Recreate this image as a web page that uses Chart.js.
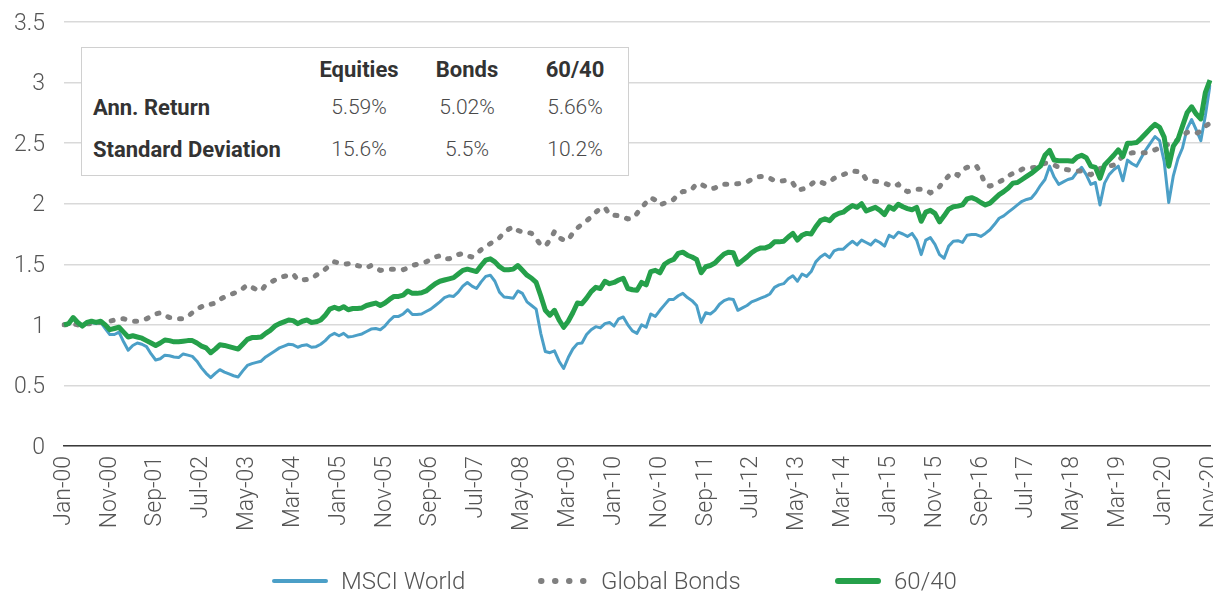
<!DOCTYPE html>
<html>
<head>
<meta charset="utf-8">
<script src="https://cdn.jsdelivr.net/npm/chart.js@4.4.1/dist/chart.umd.min.js"></script>
<style>
html,body{margin:0;padding:0;background:#fff;}
#wrap{position:relative;width:1213px;height:592px;font-family:Roboto,"Noto Sans",sans-serif;overflow:hidden;}
#c{position:absolute;left:0;top:0;}
#tbl{position:absolute;left:81px;top:47px;width:548px;height:129px;box-sizing:border-box;border:1px solid #d0d0d0;background:#fff;}
.cell{position:absolute;white-space:nowrap;transform:translate(-50%,-50%);color:#4a4a4a;font-size:21px;font-weight:300;}
.hdr{font-weight:700;color:#333;font-size:22px;}
.rl{position:absolute;white-space:nowrap;transform:translateY(-50%);font-weight:700;color:#333;font-size:22px;}
.lg{position:absolute;top:568px;height:26px;display:flex;align-items:center;font-size:24px;font-weight:300;color:#555;white-space:nowrap;}
.lg svg{margin-right:13px;}
</style>
</head>
<body>
<div id="wrap">
<canvas id="c" width="1213" height="592"></canvas>
<div id="tbl"></div>
<div id="legend"></div>
</div>
<script>
// ---- data ----
const xTickLabels = ["Jan-00","Nov-00","Sep-01","Jul-02","May-03","Mar-04","Jan-05","Nov-05","Sep-06","Jul-07","May-08","Mar-09","Jan-10","Nov-10","Sep-11","Jul-12","May-13","Mar-14","Jan-15","Nov-15","Sep-16","Jul-17","May-18","Mar-19","Jan-20","Nov-20"];
const yTickValues = [0,0.5,1,1.5,2,2.5,3,3.5];
const yTickLabels = ["0","0.5","1","1.5","2","2.5","3","3.5"];

const msciWorld = [
1.00,1.01,1.05,1.01,0.99,1.02,1.02,1.01,1.02,0.97,
0.92,0.92,0.94,0.86,0.79,0.83,0.85,0.84,0.82,0.76,
0.71,0.72,0.75,0.745,0.735,0.73,0.76,0.75,0.74,0.70,
0.645,0.60,0.565,0.60,0.63,0.61,0.595,0.58,0.57,0.62,
0.665,0.68,0.69,0.70,0.735,0.76,0.785,0.81,0.825,0.84,
0.835,0.815,0.83,0.835,0.815,0.82,0.84,0.87,0.91,0.93,
0.91,0.93,0.90,0.905,0.915,0.925,0.945,0.965,0.97,0.96,
0.99,1.035,1.07,1.07,1.09,1.125,1.085,1.085,1.09,1.11,
1.13,1.16,1.19,1.225,1.24,1.235,1.27,1.32,1.35,1.32,
1.30,1.355,1.40,1.41,1.36,1.27,1.23,1.225,1.22,1.28,
1.26,1.19,1.16,1.13,0.93,0.78,0.77,0.785,0.70,0.64,
0.73,0.80,0.845,0.85,0.92,0.96,0.985,0.975,1.01,1.02,
0.99,1.05,1.065,1.00,0.95,0.93,1.00,0.98,1.09,1.07,
1.12,1.165,1.21,1.21,1.24,1.26,1.225,1.20,1.16,1.02,
1.10,1.09,1.12,1.17,1.20,1.215,1.21,1.12,1.14,1.16,
1.19,1.205,1.22,1.235,1.255,1.31,1.33,1.34,1.38,1.405,
1.36,1.42,1.40,1.44,1.52,1.56,1.585,1.555,1.61,1.625,
1.625,1.66,1.69,1.66,1.70,1.68,1.66,1.70,1.68,1.65,
1.74,1.72,1.765,1.75,1.73,1.755,1.70,1.58,1.70,1.72,
1.665,1.58,1.55,1.65,1.69,1.695,1.68,1.74,1.745,1.745,
1.73,1.755,1.785,1.83,1.88,1.90,1.93,1.96,1.99,2.02,
2.035,2.045,2.09,2.15,2.20,2.31,2.22,2.16,2.18,2.20,
2.21,2.26,2.30,2.24,2.16,2.175,1.99,2.17,2.24,2.28,
2.31,2.19,2.36,2.33,2.31,2.38,2.445,2.50,2.555,2.52,
2.35,2.01,2.23,2.37,2.46,2.62,2.695,2.61,2.52,2.73,2.98];

const globalBonds = [
1.00,1.00,1.01,1.00,1.00,1.01,1.01,1.02,1.02,1.02,
1.03,1.04,1.05,1.05,1.04,1.03,1.03,1.04,1.05,1.07,
1.09,1.10,1.08,1.06,1.06,1.05,1.05,1.07,1.10,1.13,
1.15,1.17,1.17,1.18,1.21,1.23,1.245,1.26,1.275,1.30,
1.33,1.31,1.29,1.28,1.33,1.35,1.37,1.39,1.40,1.41,
1.42,1.37,1.37,1.375,1.38,1.41,1.43,1.46,1.49,1.52,
1.51,1.50,1.505,1.51,1.49,1.48,1.47,1.49,1.47,1.45,
1.455,1.46,1.46,1.455,1.455,1.47,1.49,1.50,1.51,1.52,
1.54,1.56,1.57,1.545,1.545,1.565,1.58,1.59,1.57,1.56,
1.59,1.62,1.65,1.67,1.70,1.72,1.76,1.79,1.81,1.78,
1.765,1.765,1.755,1.71,1.66,1.65,1.70,1.77,1.72,1.70,
1.70,1.76,1.80,1.83,1.86,1.89,1.93,1.96,1.97,1.91,
1.905,1.90,1.89,1.875,1.88,1.92,1.97,2.01,2.05,2.03,
1.99,2.005,2.02,2.035,2.08,2.10,2.10,2.12,2.165,2.16,
2.14,2.12,2.13,2.155,2.16,2.16,2.165,2.165,2.17,2.18,
2.20,2.22,2.225,2.225,2.21,2.19,2.185,2.19,2.195,2.17,
2.11,2.12,2.13,2.16,2.19,2.18,2.165,2.18,2.21,2.225,
2.24,2.255,2.27,2.265,2.26,2.20,2.19,2.185,2.18,2.17,
2.155,2.14,2.16,2.12,2.10,2.11,2.12,2.12,2.115,2.09,
2.11,2.14,2.19,2.23,2.255,2.235,2.28,2.30,2.31,2.315,
2.25,2.16,2.145,2.16,2.18,2.20,2.23,2.25,2.26,2.285,
2.295,2.295,2.30,2.32,2.335,2.33,2.32,2.30,2.285,2.28,
2.275,2.27,2.27,2.255,2.24,2.26,2.29,2.30,2.31,2.32,
2.36,2.39,2.41,2.42,2.42,2.42,2.42,2.43,2.445,2.46,
2.485,2.49,2.50,2.53,2.56,2.59,2.59,2.58,2.60,2.64,2.665];

const sixtyForty = [
1.00,1.01,1.06,1.02,0.99,1.02,1.03,1.02,1.03,1.00,
0.96,0.97,0.98,0.94,0.90,0.91,0.90,0.89,0.87,0.85,
0.83,0.85,0.875,0.87,0.86,0.86,0.865,0.87,0.87,0.85,
0.825,0.81,0.77,0.80,0.835,0.83,0.82,0.81,0.80,0.84,
0.88,0.895,0.895,0.90,0.93,0.955,0.99,1.01,1.025,1.04,
1.035,1.01,1.03,1.04,1.02,1.025,1.04,1.08,1.13,1.145,
1.13,1.15,1.125,1.135,1.135,1.14,1.16,1.17,1.18,1.16,
1.18,1.21,1.235,1.235,1.245,1.28,1.26,1.26,1.265,1.28,
1.31,1.34,1.36,1.37,1.38,1.39,1.42,1.45,1.46,1.45,
1.44,1.49,1.535,1.545,1.52,1.48,1.455,1.455,1.46,1.49,
1.45,1.41,1.385,1.35,1.24,1.12,1.08,1.12,1.04,0.98,
1.03,1.10,1.18,1.175,1.22,1.275,1.31,1.30,1.36,1.34,
1.35,1.37,1.385,1.30,1.29,1.285,1.35,1.33,1.44,1.45,
1.43,1.50,1.525,1.54,1.59,1.60,1.575,1.56,1.54,1.43,
1.48,1.49,1.51,1.55,1.585,1.60,1.595,1.50,1.53,1.56,
1.595,1.62,1.635,1.635,1.65,1.685,1.685,1.69,1.725,1.755,
1.70,1.74,1.755,1.75,1.81,1.86,1.875,1.86,1.90,1.92,
1.93,1.96,1.985,1.97,2.00,1.94,1.955,1.97,1.945,1.91,
1.975,1.955,1.995,1.975,1.96,1.95,1.97,1.855,1.93,1.945,
1.92,1.85,1.90,1.955,1.975,1.98,1.99,2.04,2.05,2.035,
2.01,1.99,2.005,2.04,2.075,2.10,2.13,2.17,2.175,2.20,
2.225,2.25,2.28,2.31,2.40,2.44,2.36,2.355,2.355,2.355,
2.35,2.385,2.40,2.38,2.31,2.30,2.21,2.32,2.36,2.40,
2.445,2.39,2.50,2.50,2.505,2.54,2.58,2.62,2.655,2.63,
2.55,2.31,2.475,2.53,2.64,2.75,2.80,2.74,2.70,2.92,3.02];

const seriesNames = ["MSCI World","Global Bonds","60/40"];
const tableColumns = ["Equities","Bonds","60/40"];
const tableRows = ["Ann. Return","Standard Deviation"];
const tableValues = [["5.59%","5.02%","5.66%"],["15.6%","5.5%","10.2%"]];

// month categories Jan-00 .. Nov-20
const monthNames = ["Jan","Feb","Mar","Apr","May","Jun","Jul","Aug","Sep","Oct","Nov","Dec"];
const months = [];
for (let i = 0; i < msciWorld.length; i++) {
  const y = Math.floor(i / 12), mo = i % 12;
  months.push(monthNames[mo] + "-" + String(y).padStart(2, "0"));
}
const tickSet = new Set(xTickLabels);

const FONT = "Roboto";
const BLUE = "#4b9fc7", GREY = "#808080", GREEN = "#25a04a";

new Chart(document.getElementById("c").getContext("2d"), {
  type: "line",
  data: {
    labels: months,
    datasets: [
      { label: seriesNames[0], data: msciWorld, borderColor: BLUE, borderWidth: 3, pointRadius: 0, tension: 0, order: 3, borderJoinStyle: "round" },
      { label: seriesNames[1], data: globalBonds, borderColor: GREY, borderWidth: 5, borderDash: [2, 10], borderCapStyle: "round", pointRadius: 0, tension: 0, order: 2 },
      { label: seriesNames[2], data: sixtyForty, borderColor: GREEN, borderWidth: 5, pointRadius: 0, tension: 0, order: 1, borderJoinStyle: "round" }
    ]
  },
  options: {
    responsive: false,
    animation: false,
    events: [],
    layout: { padding: { top: 22, right: 3, left: 0, bottom: 0 } },
    plugins: { legend: { display: false }, tooltip: { enabled: false } },
    scales: {
      x: {
        type: "category",
        offset: false,
        grid: { display: false, drawTicks: false },
        border: { display: true, color: "#3a3a3a", width: 1.5 },
        ticks: {
          autoSkip: false, maxRotation: 90, minRotation: 90, padding: 10,
          color: "#555", font: { family: FONT, size: 23, weight: 300 },
          callback: function (v, i) { const l = months[i]; return tickSet.has(l) ? l : null; }
        },
        afterFit: function (s) { s.height = 146; s.paddingLeft = 0; s.paddingRight = 0; }
      },
      y: {
        min: 0, max: 3.5,
        afterBuildTicks: function (s) { s.ticks = yTickValues.map(v => ({ value: v })); },
        ticks: {
          padding: 19, labelOffset: 2, color: "#555", font: { family: FONT, size: 23, weight: 300 },
          callback: function (v) { const k = yTickValues.indexOf(v); return k >= 0 ? yTickLabels[k] : ""; }
        },
        grid: { color: "#d9d9d9", lineWidth: 1.5, drawTicks: false },
        border: { display: false },
        afterFit: function (s) { s.width = 64; s.paddingTop = 0; s.paddingBottom = 0; }
      }
    }
  }
});

// table overlay and legend
(function () {
  const wrap = document.getElementById("wrap");
  const colX = [359, 467, 575];
  const rowY = [69, 107, 149];
  tableColumns.forEach((c, j) => {
    const d = document.createElement("div");
    d.className = "cell hdr"; d.textContent = c;
    d.style.left = colX[j] + "px"; d.style.top = rowY[0] + "px";
    wrap.appendChild(d);
  });
  tableRows.forEach((r, i) => {
    const d = document.createElement("div");
    d.className = "rl"; d.textContent = r;
    d.style.left = "93px"; d.style.top = rowY[i + 1] + "px";
    wrap.appendChild(d);
    tableValues[i].forEach((v, j) => {
      const e = document.createElement("div");
      e.className = "cell"; e.textContent = v;
      e.style.left = colX[j] + "px"; e.style.top = rowY[i + 1] + "px";
      wrap.appendChild(e);
    });
  });
  const items = [
    { x: 272, w: 56, svg: '<line x1="2" y1="5" x2="54" y2="5" stroke="' + BLUE + '" stroke-width="4" stroke-linecap="round"/>' },
    { x: 538, w: 50, svg: '<line x1="3" y1="5" x2="47" y2="5" stroke="' + GREY + '" stroke-width="6" stroke-linecap="round" stroke-dasharray="0.5 13.5"/>' },
    { x: 835, w: 46, svg: '<line x1="3" y1="5" x2="43" y2="5" stroke="' + GREEN + '" stroke-width="6" stroke-linecap="round"/>' }
  ];
  items.forEach((it, k) => {
    const d = document.createElement("div");
    d.className = "lg";
    d.style.left = it.x + "px";
    d.innerHTML = '<svg width="' + it.w + '" height="10" viewBox="0 0 ' + it.w + ' 10">' + it.svg + '</svg><span>' + seriesNames[k] + '</span>';
    wrap.appendChild(d);
  });
})();
</script>
</body>
</html>
